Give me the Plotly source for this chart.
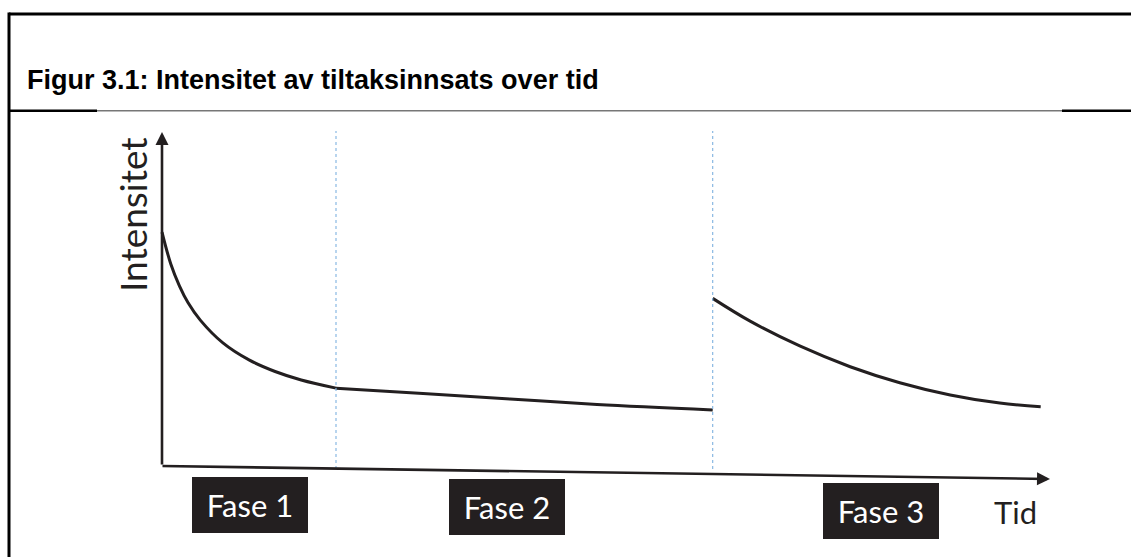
import plotly.graph_objects as go

# ---- data (conceptual intensity curve over time) ----
phase1_t = [0.0, 0.1, 0.2, 0.3, 0.44, 0.7, 1.0, 1.3, 1.6, 2.0]
phase1_i = [6.88, 5.95, 5.3, 4.8, 4.29, 3.62, 3.12, 2.78, 2.53, 2.29]
phase2_t = [2.0, 3.0, 4.0, 5.0, 6.33]
phase2_i = [2.29, 2.13, 1.97, 1.81, 1.65]
phase3_t = [6.33, 6.76, 7.33, 7.91, 8.48, 9.06, 9.63, 10.1]
phase3_i = [4.93, 4.26, 3.53, 2.92, 2.45, 2.09, 1.85, 1.74]
phase_bounds = [2.0, 6.33]
phase_labels = ["Fase 1", "Fase 2", "Fase 3"]
title_text = "Figur 3.1: Intensitet av tiltaksinnsats over tid"
y_label = "Intensitet"
x_label = "Tid"

# ---- figure geometry ----
W, H = 1131, 557
PX_X, PX_Y = 87.0, 34.0          # pixels per data unit
OX, OY = 162, 466                # pixel location of the origin
INK = "#231f20"

def tx(px):
    return (px - OX) / PX_X

def iy(py):
    return (OY - py) / PX_Y

fig = go.Figure()
for t, i in [(phase1_t, phase1_i), (phase2_t, phase2_i), (phase3_t, phase3_i)]:
    fig.add_trace(go.Scatter(x=t, y=i, mode="lines",
                             line=dict(color=INK, width=3, shape="spline", smoothing=1.0),
                             hoverinfo="skip", showlegend=False))

shapes = []
for b in phase_bounds:
    shapes.append(dict(type="line", xref="x", yref="y", x0=b, x1=b,
                       y0=iy(469), y1=iy(131),
                       line=dict(color="#7fb2e0", width=1.1, dash="dot")))

# frame lines (paper coords)
def px2paperx(px):
    return px / W

def py2papery(py):
    return 1 - py / H

shapes += [
    dict(type="line", xref="paper", yref="paper", x0=px2paperx(9), x1=1.0,
         y0=py2papery(14), y1=py2papery(14), line=dict(color="black", width=3)),
    dict(type="line", xref="paper", yref="paper", x0=px2paperx(9), x1=px2paperx(9),
         y0=py2papery(12.5), y1=0, line=dict(color="black", width=3)),
    dict(type="line", xref="paper", yref="paper", x0=px2paperx(97), x1=px2paperx(1062),
         y0=py2papery(110.7), y1=py2papery(110.7), line=dict(color="#777777", width=1.5)),
    dict(type="line", xref="paper", yref="paper", x0=px2paperx(9), x1=px2paperx(97),
         y0=py2papery(110.7), y1=py2papery(110.7), line=dict(color="black", width=2.5)),
    dict(type="line", xref="paper", yref="paper", x0=px2paperx(1062), x1=1.0,
         y0=py2papery(110.7), y1=py2papery(110.7), line=dict(color="black", width=2.5)),
]

annotations = []
# axes arrows
annotations.append(dict(x=0, y=iy(132), ax=0, ay=0, xref="x", yref="y", axref="x", ayref="y",
                        text="", showarrow=True, arrowhead=2, arrowwidth=2.6, arrowsize=1,
                        arrowcolor=INK, standoff=0, startstandoff=0))
annotations.append(dict(x=tx(1050), y=iy(479), ax=tx(161), ay=0, xref="x", yref="y",
                        axref="x", ayref="y",
                        text="", showarrow=True, arrowhead=2, arrowwidth=2.6, arrowsize=1,
                        arrowcolor=INK, standoff=0, startstandoff=0))

# phase label boxes
label_px = [(250, 505), (506.5, 506.5), (881, 511)]
for lab, (px, py) in zip(phase_labels, label_px):
    annotations.append(dict(x=tx(px), y=iy(py), xref="x", yref="y", text=lab,
                            showarrow=False, bgcolor=INK, width=116, height=56,
                            borderpad=0, borderwidth=0,
                            font=dict(family="Lato", size=31, color="white"),
                            xanchor="center", yanchor="middle"))

annotations.append(dict(x=tx(1015), y=iy(512), xref="x", yref="y", text=x_label,
                        showarrow=False, font=dict(family="Lato", size=31, color=INK),
                        xanchor="center", yanchor="middle"))
annotations.append(dict(x=tx(132), y=iy(215), xref="x", yref="y", text=y_label,
                        showarrow=False, textangle=-90,
                        font=dict(family="Lato", size=37, color=INK),
                        xanchor="center", yanchor="middle"))
annotations.append(dict(x=px2paperx(25), y=py2papery(80), xref="paper", yref="paper",
                        text="<b>" + title_text + "</b>", showarrow=False,
                        font=dict(family="Liberation Sans, Arial", size=27, color="black"),
                        xanchor="left", yanchor="middle"))

fig.update_layout(
    width=W, height=H, margin=dict(l=0, r=0, t=0, b=0),
    paper_bgcolor="white", plot_bgcolor="white",
    xaxis=dict(range=[tx(0), tx(W)], visible=False, fixedrange=True),
    yaxis=dict(range=[iy(H), iy(0)], visible=False, fixedrange=True),
    shapes=shapes, annotations=annotations, showlegend=False,
)

fig.write_html("out.html", config={"displayModeBar": False},
               post_script="document.body.style.margin='0';document.body.style.overflow='hidden';")
